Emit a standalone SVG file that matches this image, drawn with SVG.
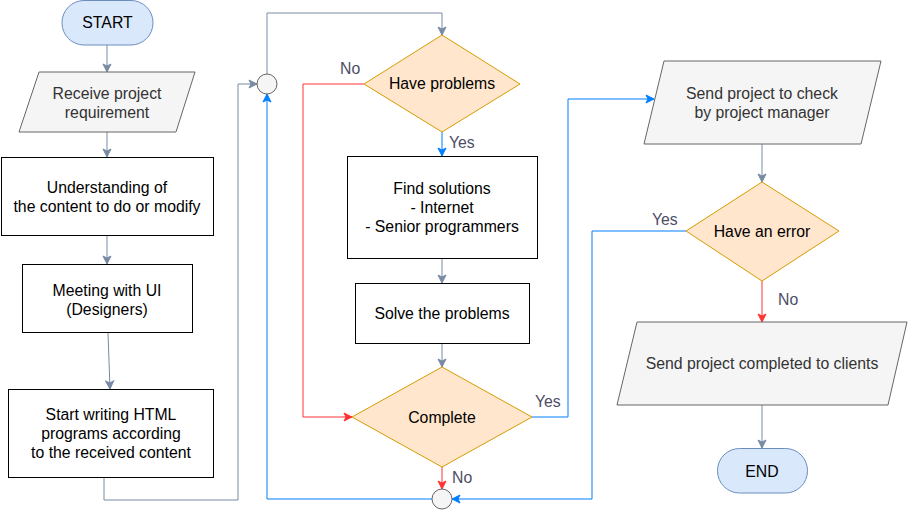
<svg xmlns="http://www.w3.org/2000/svg" width="908" height="518" viewBox="0 0 908 518">
<style>
text{font-family:"Liberation Sans",Arial,Helvetica,sans-serif;font-size:15.8px;text-anchor:middle}
.term{fill:#dae8fc;stroke:#6c8ebf;stroke-width:1}
.io{fill:#f5f5f5;stroke:#666666;stroke-width:1}
.proc{fill:#ffffff;stroke:#000000;stroke-width:1}
.dec{fill:#ffe6cc;stroke:#d79b00;stroke-width:1}
.circ{fill:#f5f5f5;stroke:#666666;stroke-width:1}
.t{fill:#000000}
.tg{fill:#333333}
.lbl{fill:#4d4d66;text-anchor:start}
.eg{fill:none;stroke:#788aa3;stroke-width:1}
.eb{fill:none;stroke:#007fff;stroke-width:1}
.er{fill:none;stroke:#ff3333;stroke-width:1}
</style>
<defs>
<marker id="ag" markerUnits="userSpaceOnUse" markerWidth="10" markerHeight="10" viewBox="0 0 10 10" refX="9" refY="5" orient="auto"><path d="M1,1 L9,5 L1,9 L3,5 z" fill="#788aa3" stroke="#788aa3" stroke-width="1"/></marker>
<marker id="ab" markerUnits="userSpaceOnUse" markerWidth="10" markerHeight="10" viewBox="0 0 10 10" refX="9" refY="5" orient="auto"><path d="M1,1 L9,5 L1,9 L3,5 z" fill="#007fff" stroke="#007fff" stroke-width="1"/></marker>
<marker id="ar" markerUnits="userSpaceOnUse" markerWidth="10" markerHeight="10" viewBox="0 0 10 10" refX="9" refY="5" orient="auto"><path d="M1,1 L9,5 L1,9 L3,5 z" fill="#ff3333" stroke="#ff3333" stroke-width="1"/></marker>
</defs>

<g id="connectors">
<path class="eg" d="M107,45 V72" marker-end="url(#ag)"/>
<path class="eg" d="M107,132 V157" marker-end="url(#ag)"/>
<path class="eg" d="M107,235 V264" marker-end="url(#ag)"/>
<path class="eg" d="M108,333 L110,389" marker-end="url(#ag)"/>
<path class="eg" d="M104,478 V500 H238 V84 H257" marker-end="url(#ag)"/>
<path class="eg" d="M267,74 V13 H442 V35" marker-end="url(#ag)"/>
<path class="er" d="M364,84 H303 V417 H352" marker-end="url(#ar)"/>
<path class="eb" d="M442,132 V156" marker-end="url(#ab)"/>
<path class="eg" d="M442,258 V283" marker-end="url(#ag)"/>
<path class="eg" d="M442,343 V367" marker-end="url(#ag)"/>
<path class="eb" d="M532,417 H568 V99 H654" marker-end="url(#ab)"/>
<path class="er" d="M442,467 V489" marker-end="url(#ar)"/>
<path class="eb" d="M432,499 H267 V94" marker-end="url(#ab)"/>
<path class="eg" d="M762,144 V182" marker-end="url(#ag)"/>
<path class="eb" d="M686,231 H592 V499 H452" marker-end="url(#ab)"/>
<path class="er" d="M762,281 V322" marker-end="url(#ar)"/>
<path class="eg" d="M762,405 V448" marker-end="url(#ag)"/>
<text class="lbl" x="340" y="74">No</text>
<text class="lbl" x="449" y="148">Yes</text>
<text class="lbl" x="535" y="407">Yes</text>
<text class="lbl" x="452" y="483">No</text>
<text class="lbl" x="652" y="225">Yes</text>
<text class="lbl" x="778" y="305">No</text>
</g>

<g id="start"><rect class="term" x="62" y="0.5" width="91" height="44.5" rx="22" ry="22"/><text class="t" x="107.5" y="28">START</text></g>
<g id="receive"><polygon class="io" points="39,72 195,72 176,132 19,132"/><text class="tg" x="107" y="99">Receive project</text><text class="tg" x="107" y="118">requirement</text></g>
<g id="understanding"><rect class="proc" x="1.5" y="157.5" width="212" height="78"/><text class="t" x="107" y="193">Understanding of</text><text class="t" x="107" y="212">the content to do or modify</text></g>
<g id="meeting"><rect class="proc" x="22.5" y="264.5" width="170" height="68"/><text class="t" x="107" y="296">Meeting with UI</text><text class="t" x="107" y="315">(Designers)</text></g>
<g id="startwriting"><rect class="proc" x="8.5" y="389.5" width="205" height="88"/><text class="t" x="111" y="420">Start writing HTML</text><text class="t" x="111" y="439">programs according</text><text class="t" x="111" y="458">to the received content</text></g>
<g id="merge1"><circle class="circ" cx="267" cy="84" r="10"/></g>
<g id="haveproblems"><polygon class="dec" points="442,35 520,84 442,132 364,84"/><text class="t" x="442" y="89">Have problems</text></g>
<g id="findsolutions"><rect class="proc" x="347.5" y="156.5" width="190" height="102"/><text class="t" x="442" y="194">Find solutions</text><text class="t" x="442" y="213">- Internet</text><text class="t" x="442" y="232">- Senior programmers</text></g>
<g id="solve"><rect class="proc" x="355.5" y="283.5" width="174" height="60"/><text class="t" x="442" y="319">Solve the problems</text></g>
<g id="complete"><polygon class="dec" points="442,367 532,417 442,467 352,417"/><text class="t" x="442" y="423">Complete</text></g>
<g id="merge2"><circle class="circ" cx="442" cy="499" r="10"/></g>
<g id="sendcheck"><polygon class="io" points="664,61 881,61 861,144 644,144"/><text class="tg" x="762" y="99">Send project to check</text><text class="tg" x="762" y="118">by project manager</text></g>
<g id="haveerror"><polygon class="dec" points="762,182 839,231 762,281 686,231"/><text class="t" x="762" y="237">Have an error</text></g>
<g id="sendclients"><polygon class="io" points="637,322 907,322 888,405 617,405"/><text class="tg" x="762" y="369">Send project completed to clients</text></g>
<g id="end"><rect class="term" x="717.5" y="448.5" width="90" height="44.5" rx="22" ry="22"/><text class="t" x="762" y="477">END</text></g>
</svg>
